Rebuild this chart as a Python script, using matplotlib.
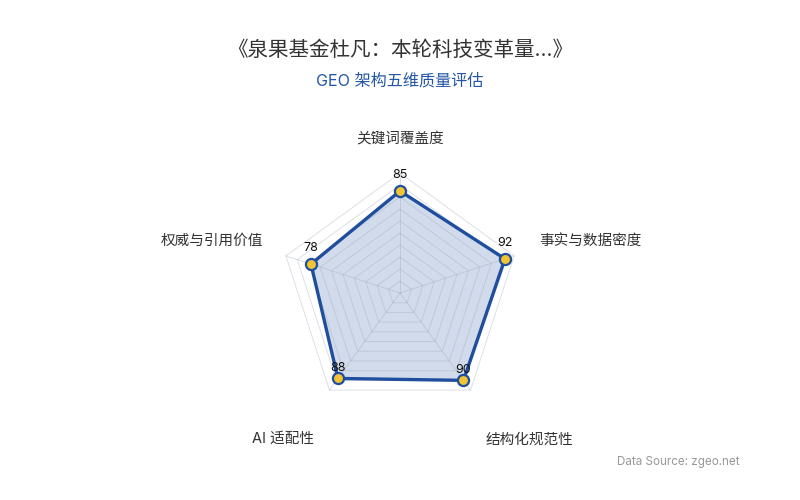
import numpy as np
import matplotlib.pyplot as plt

plt.rcParams["font.family"] = ["Inter", "Noto Sans CJK SC", "DejaVu Sans"]

# Data
dimensions = ["关键词覆盖度", "事实与数据密度", "结构化规范性", "AI 适配性", "权威与引用价值"]
scores = [85, 92, 90, 88, 78]
max_score = 100
split_number = 10

title = "《泉果基金杜凡：本轮科技变革量...》"
subtitle = "GEO 架构五维质量评估"
source = "Data Source: zgeo.net"

line_color = "#1f4e9e"
marker_color = "#f3c432"
grid_color = "#9aa5b8"

n = len(dimensions)
# clockwise from the top
angles = np.pi / 2 - np.arange(n) * 2 * np.pi / n

fig = plt.figure(figsize=(8, 5), dpi=100)
# axes of 300x300 px centred at (400, 293) px, 1 unit = 120 px
ax = fig.add_axes([250 / 800, (500 - 293 - 150) / 500, 300 / 800, 300 / 500])
ax.set_xlim(-1.25, 1.25)
ax.set_ylim(-1.25, 1.25)
ax.axis("off")

# grid rings
for k in range(1, split_number + 1):
    r = k / split_number
    xs = np.append(r * np.cos(angles), r * np.cos(angles[0]))
    ys = np.append(r * np.sin(angles), r * np.sin(angles[0]))
    ax.plot(xs, ys, color=grid_color, lw=0.7, alpha=0.35, zorder=3)
# radial lines
for a in angles:
    ax.plot([0, np.cos(a)], [0, np.sin(a)], color=grid_color, lw=0.7, alpha=0.35, zorder=3)

# series
vals = np.array(scores) / max_score
px = vals * np.cos(angles)
py = vals * np.sin(angles)
ax.fill(px, py, color=line_color, alpha=0.2, lw=0, zorder=2)
ax.plot(np.append(px, px[0]), np.append(py, py[0]), color=line_color, lw=2.4, zorder=4)
ax.plot(px, py, "o", ms=8, mfc=marker_color, mec=line_color, mew=1.6, zorder=5)

label_dy = [7, 7, 3, 3, 7]
for x, y, v, dy in zip(px, py, scores, label_dy):
    ax.annotate(str(v), (x, y), xytext=(0, dy), textcoords="offset points",
                ha="center", va="bottom", fontsize=9, color="#111111", zorder=6)

# axis names
name_align = [("center", "center", 0, 5), ("left", "center", 0, 5),
              ("left", "center", 0, -20), ("right", "center", 0, -20),
              ("right", "center", 2, 5)]
name_r = 1.22
for name, a, (ha, va, dx, dy) in zip(dimensions, angles, name_align):
    ax.annotate(name, (name_r * np.cos(a), name_r * np.sin(a)), xytext=(dx, dy),
                textcoords="offset points", ha=ha, va=va, fontsize=10.5,
                color="#333333", annotation_clip=False)

fig.text(0.5, 1 - 50 / 500, title, ha="center", va="center", fontsize=14.8, color="#333333")
fig.text(0.5, 1 - 81 / 500, subtitle, ha="center", va="center", fontsize=11.6, color="#2456a4")
fig.text(740 / 800, 1 - 462 / 500, source, ha="right", va="center", fontsize=8.4, color="#999999")

fig.savefig("out.png", dpi=100)
